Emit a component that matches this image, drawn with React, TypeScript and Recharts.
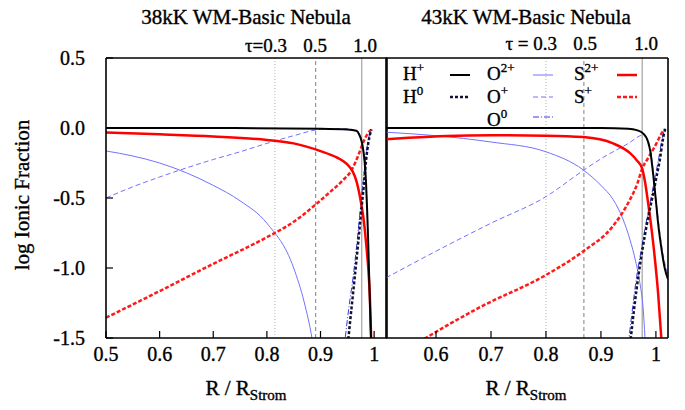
import { LineChart, Line, XAxis, YAxis, ReferenceLine } from "recharts"

// 38kK panel: R / R_Strom samples and log ionic fraction per ion
const hp38X = [0.5, 0.7, 0.9, 0.95, 0.967, 0.972, 0.976, 0.979, 0.982, 0.985, 0.987, 0.989, 0.991, 0.993, 0.995]
const hp38Y = [0, 0, -0.005, -0.01, -0.02, -0.045, -0.086, -0.14, -0.23, -0.4, -0.59, -0.82, -1.1, -1.35, -1.6]
const h038X = [0.948, 0.951, 0.958, 0.964, 0.97, 0.976, 0.981, 0.985, 0.989, 0.992, 0.995]
const h038Y = [-1.65, -1.54, -1.28, -1.06, -0.83, -0.59, -0.4, -0.23, -0.11, -0.05, -0.01]
const o2p38X = [0.5, 0.55, 0.6, 0.65, 0.7, 0.75, 0.8, 0.85, 0.87, 0.884, 0.89]
const o2p38Y = [-0.164, -0.2, -0.25, -0.32, -0.41, -0.52, -0.68, -1.0, -1.25, -1.5, -1.65]
const op38X = [0.5, 0.55, 0.6, 0.65, 0.7, 0.75, 0.8, 0.85, 0.9, 0.95, 0.965, 0.972, 0.977, 0.981, 0.985, 0.988, 0.991, 0.994]
const op38Y = [-0.5, -0.42, -0.35, -0.285, -0.225, -0.17, -0.11, -0.055, -0.01, -0.005, -0.02, -0.05, -0.1, -0.2, -0.4, -0.7, -1.1, -1.6]
const o038X = [0.942, 0.945, 0.953, 0.961, 0.968, 0.974, 0.979, 0.984, 0.988, 0.991, 0.994]
const o038Y = [-1.65, -1.54, -1.28, -1.06, -0.82, -0.59, -0.4, -0.23, -0.11, -0.05, -0.01]
const s2p38X = [0.5, 0.6, 0.7, 0.8, 0.85, 0.9, 0.93, 0.95, 0.96, 0.967, 0.974, 0.98, 0.985, 0.989, 0.992, 0.994, 0.996]
const s2p38Y = [-0.033, -0.045, -0.06, -0.085, -0.11, -0.165, -0.21, -0.26, -0.31, -0.38, -0.5, -0.64, -0.82, -1.0, -1.2, -1.45, -1.7]
const sp38X = [0.5, 0.6, 0.7, 0.8, 0.85, 0.893, 0.917, 0.94, 0.958, 0.97, 0.98, 0.988, 0.995]
const sp38Y = [-1.355, -1.165, -0.97, -0.78, -0.67, -0.54, -0.46, -0.38, -0.3, -0.2, -0.1, -0.04, -0.01]

// 43kK panel
const hp43X = [0.509, 0.7, 0.9, 0.95, 0.965, 0.977, 0.985, 0.99, 0.995, 1.0, 1.004, 1.01, 1.016, 1.022]
const hp43Y = [0, 0, 0, -0.005, -0.015, -0.04, -0.09, -0.17, -0.33, -0.52, -0.68, -0.86, -1.0, -1.08]
const h043X = [0.948, 0.954, 0.961, 0.968, 0.975, 0.983, 0.989, 0.995, 1.001, 1.007, 1.012, 1.016, 1.02]
const h043Y = [-1.72, -1.51, -1.27, -1.06, -0.88, -0.7, -0.58, -0.47, -0.35, -0.23, -0.1, -0.02, 0]
const o2p43X = [0.509, 0.6, 0.7, 0.8, 0.868, 0.9, 0.922, 0.94, 0.953, 0.963, 0.971, 0.977, 0.98, 0.983]
const o2p43Y = [-0.03, -0.055, -0.1, -0.17, -0.3, -0.41, -0.51, -0.65, -0.8, -0.95, -1.11, -1.3, -1.49, -1.7]
const op43X = [0.509, 0.6, 0.7, 0.8, 0.869, 0.9, 0.95, 0.977, 0.985, 0.99, 0.995, 1.0, 1.005, 1.012, 1.022]
const op43Y = [-1.07, -0.88, -0.68, -0.49, -0.3, -0.22, -0.11, -0.05, -0.08, -0.15, -0.3, -0.5, -0.68, -0.88, -1.05]
const o043X = [0.945, 0.951, 0.958, 0.965, 0.973, 0.981, 0.987, 0.993, 0.999, 1.005, 1.01, 1.015]
const o043Y = [-1.7, -1.5, -1.27, -1.06, -0.88, -0.7, -0.58, -0.46, -0.34, -0.22, -0.1, -0.02]
const s2p43X = [0.509, 0.55, 0.619, 0.7, 0.8, 0.868, 0.922, 0.953, 0.965, 0.975, 0.98, 0.986, 0.995, 1.004, 1.01, 1.013]
const s2p43Y = [-0.08, -0.07, -0.057, -0.052, -0.055, -0.065, -0.11, -0.18, -0.23, -0.29, -0.38, -0.54, -0.82, -1.18, -1.51, -1.7]
const sp43X = [0.56, 0.577, 0.68, 0.8, 0.868, 0.922, 0.953, 0.966, 0.975, 0.985, 1.001, 1.01, 1.016]
const sp43Y = [-1.55, -1.51, -1.28, -1.05, -0.88, -0.7, -0.51, -0.4, -0.29, -0.22, -0.11, -0.04, -0.01]

// optical depth markers (tau = 0.3, 0.5, 1.0)
const tau38 = [0.815, 0.891, 0.977]
const tau43 = [0.8, 0.869, 0.975]

const xTicks38 = [0.5, 0.6, 0.7, 0.8, 0.9, 1.0]
const xTicks43 = [0.6, 0.7, 0.8, 0.9, 1.0]
const yTicks = [-1.5, -1.0, -0.5, 0.0, 0.5]

const FONT = "'Liberation Serif', 'Times New Roman', serif"
const BLUE = "#7272ff"

const zip = (xs: number[], ys: number[]) => xs.map((r, i) => ({ r, v: ys[i] }))

const ionStyle: Record<string, { stroke: string; width: number; dash?: string }> = {
  hp: { stroke: "#000", width: 2 },
  h0: { stroke: "#111133", width: 2.5, dash: "3 2" },
  o2p: { stroke: BLUE, width: 1 },
  op: { stroke: BLUE, width: 1, dash: "5 3" },
  o0: { stroke: "#3a3ae0", width: 1, dash: "6 2 1 2" },
  s2p: { stroke: "#ff0000", width: 2.5 },
  sp: { stroke: "#ff1a1a", width: 2.5, dash: "4 2" },
}

const tauStyle = [
  { stroke: "#b0b0b0", dash: "1 2" },
  { stroke: "#808080", dash: "4 3" },
  { stroke: "#909090", dash: undefined },
]

type Series = { key: string; data: { r: number; v: number }[] }

const series38: Series[] = [
  { key: "o2p", data: zip(o2p38X, o2p38Y) },
  { key: "op", data: zip(op38X, op38Y) },
  { key: "o0", data: zip(o038X, o038Y) },
  { key: "sp", data: zip(sp38X, sp38Y) },
  { key: "s2p", data: zip(s2p38X, s2p38Y) },
  { key: "h0", data: zip(h038X, h038Y) },
  { key: "hp", data: zip(hp38X, hp38Y) },
]

const series43: Series[] = [
  { key: "o2p", data: zip(o2p43X, o2p43Y) },
  { key: "op", data: zip(op43X, op43Y) },
  { key: "o0", data: zip(o043X, o043Y) },
  { key: "sp", data: zip(sp43X, sp43Y) },
  { key: "s2p", data: zip(s2p43X, s2p43Y) },
  { key: "h0", data: zip(h043X, h043Y) },
  { key: "hp", data: zip(hp43X, hp43Y) },
]

const tickFmt = (v: number) => (v === 1 ? "1" : v.toFixed(1))
const axisLine = { stroke: "#000", strokeWidth: 1.6 }
const tickLine = { stroke: "#000", strokeWidth: 1.2 }
const tickText = { fill: "#000", stroke: "#000", strokeWidth: 0.35, fontSize: 20, fontFamily: FONT }

function Panel(props: {
  width: number
  series: Series[]
  domain: [number, number]
  ticks: number[]
  tau: number[]
  leftW: number
  rightW: number
  labels: boolean
}) {
  const { width, series, domain, ticks, tau, leftW, rightW, labels } = props
  return (
    <LineChart width={width} height={410} margin={{ top: 0, right: 0, bottom: 0, left: 0 }}>
      <XAxis
        type="number"
        dataKey="r"
        domain={domain}
        allowDataOverflow
        ticks={ticks}
        tickFormatter={tickFmt}
        height={72}
        tickSize={-7}
        tickMargin={16}
        axisLine={axisLine}
        tickLine={tickLine}
        tick={tickText}
      />
      <XAxis
        xAxisId="top"
        orientation="top"
        type="number"
        domain={domain}
        allowDataOverflow
        ticks={ticks}
        height={58}
        tickSize={-7}
        tick={false}
        axisLine={axisLine}
        tickLine={tickLine}
      />
      <YAxis
        type="number"
        domain={[-1.5, 0.5]}
        allowDataOverflow
        ticks={yTicks}
        width={leftW}
        tickSize={-7}
        tickMargin={28}
        tickFormatter={(v: number) => v.toFixed(1)}
        tick={labels ? tickText : false}
        axisLine={axisLine}
        tickLine={tickLine}
      />
      <YAxis
        yAxisId="r"
        orientation="right"
        type="number"
        domain={[-1.5, 0.5]}
        allowDataOverflow
        ticks={yTicks}
        width={rightW}
        tickSize={-7}
        tick={false}
        axisLine={axisLine}
        tickLine={tickLine}
      />
      {tau.map((t, i) => (
        <ReferenceLine
          key={t}
          x={t}
          stroke={tauStyle[i].stroke}
          strokeWidth={1}
          strokeDasharray={tauStyle[i].dash}
        />
      ))}
      {series.map((s) => {
        const st = ionStyle[s.key]
        return (
          <Line
            key={s.key}
            data={s.data}
            dataKey="v"
            type="monotone"
            stroke={st.stroke}
            strokeWidth={st.width}
            strokeDasharray={st.dash}
            dot={false}
            isAnimationActive={false}
          />
        )
      })}
    </LineChart>
  )
}

function Ion(props: { x: number; y: number; base: string; sup: string }) {
  return (
    <text x={props.x} y={props.y} fontSize={19}>
      {props.base}
      <tspan fontSize={13} dy={-8}>
        {props.sup}
      </tspan>
    </text>
  )
}

function Sample(props: { x: number; y: number; k: string }) {
  const st = ionStyle[props.k]
  return (
    <line
      x1={props.x}
      x2={props.x + 20}
      y1={props.y}
      y2={props.y}
      stroke={st.stroke}
      strokeWidth={st.width}
      strokeDasharray={st.dash}
    />
  )
}

export default function App() {
  return (
    <div style={{ position: "absolute", left: 0, top: 0, width: 685, height: 410, background: "#fff" }}>
      <div style={{ position: "absolute", left: 0, top: 0 }}>
        <Panel width={400} series={series38} domain={[0.5, 1.024]} ticks={xTicks38} tau={tau38} leftW={106} rightW={13} labels />
      </div>
      <div style={{ position: "absolute", left: 380, top: 0 }}>
        <Panel width={305} series={series43} domain={[0.509, 1.022]} ticks={xTicks43} tau={tau43} leftW={6} rightW={17} labels={false} />
      </div>
      <svg
        width={685}
        height={410}
        style={{ position: "absolute", left: 0, top: 0, pointerEvents: "none" }}
        fontFamily={FONT}
        fill="#000"
        stroke="#000"
        strokeWidth={0.35}
      >
        <text x={246} y={24} textAnchor="middle" fontSize={21}>38kK WM-Basic Nebula</text>
        <text x={526} y={24} textAnchor="middle" fontSize={21}>43kK WM-Basic Nebula</text>

        <text x={287} y={52} textAnchor="end" fontSize={19}>τ=0.3</text>
        <text x={315} y={52} textAnchor="middle" fontSize={19}>0.5</text>
        <text x={365} y={52} textAnchor="middle" fontSize={19}>1.0</text>
        <text x={557} y={50} textAnchor="end" fontSize={19}>τ = 0.3</text>
        <text x={585} y={50} textAnchor="middle" fontSize={19}>0.5</text>
        <text x={646} y={50} textAnchor="middle" fontSize={19}>1.0</text>

        <text x={29} y={195} textAnchor="middle" fontSize={21} transform="rotate(-90 29 195)">
          log Ionic Fraction
        </text>
        <text x={246} y={395} textAnchor="middle" fontSize={21}>
          R / R<tspan fontSize={15} dy={5}>Strom</tspan>
        </text>
        <text x={526} y={395} textAnchor="middle" fontSize={21}>
          R / R<tspan fontSize={15} dy={5}>Strom</tspan>
        </text>

        <Ion x={403} y={80} base="H" sup="+" />
        <Ion x={403} y={103} base="H" sup="0" />
        <Sample x={450} y={75} k="hp" />
        <Sample x={450} y={97} k="h0" />
        <Ion x={487} y={80} base="O" sup="2+" />
        <Ion x={487} y={103} base="O" sup="+" />
        <Ion x={487} y={126} base="O" sup="0" />
        <Sample x={533} y={75} k="o2p" />
        <Sample x={533} y={97} k="op" />
        <Sample x={533} y={117} k="o0" />
        <Ion x={574} y={80} base="S" sup="2+" />
        <Ion x={574} y={103} base="S" sup="+" />
        <Sample x={617} y={75} k="s2p" />
        <Sample x={617} y={97} k="sp" />
      </svg>
    </div>
  )
}
